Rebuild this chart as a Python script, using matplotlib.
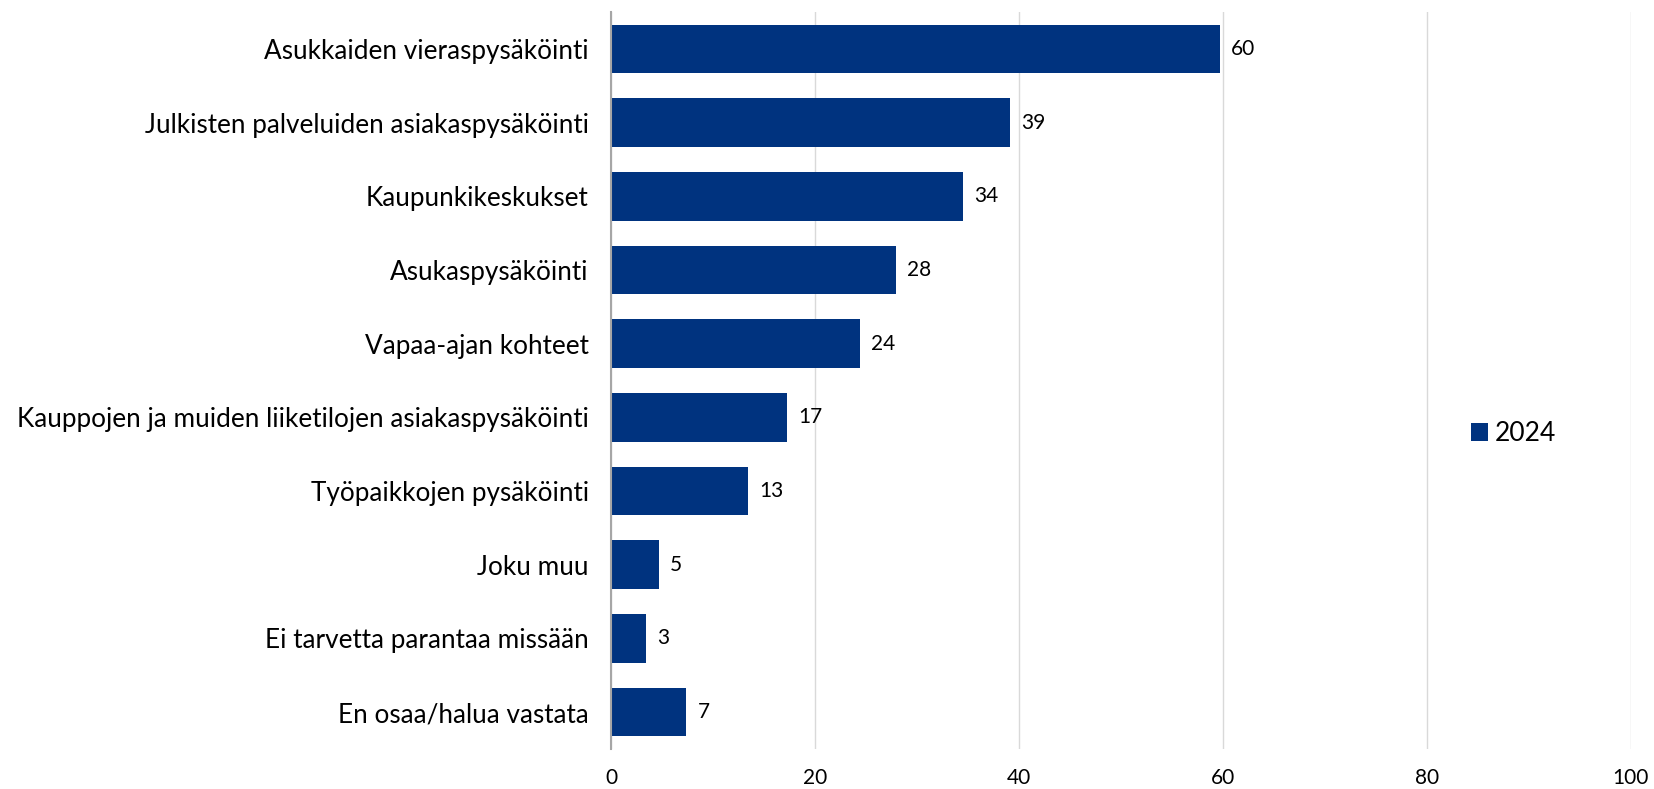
import matplotlib.pyplot as plt

categories = [
    'Asukkaiden vieraspysäköinti',
    'Julkisten palveluiden asiakaspysäköinti',
    'Kaupunkikeskukset',
    'Asukaspysäköinti',
    'Vapaa-ajan kohteet',
    'Kauppojen ja muiden liiketilojen asiakaspysäköinti',
    'Työpaikkojen pysäköinti',
    'Joku muu',
    'Ei tarvetta parantaa missään',
    'En osaa/halua vastata',
]
values = [59.7, 39.1, 34.5, 27.9, 24.4, 17.3, 13.4, 4.7, 3.4, 7.4]
value_labels = ['60', '39', '34', '28', '24', '17', '13', '5', '3', '7']
series_name = '2024'
xticks = [0, 20, 40, 60, 80, 100]

plt.rcParams['font.family'] = ['Lato', 'DejaVu Sans']

fig = plt.figure(figsize=(16.54, 7.89), dpi=100)
ax = fig.add_axes([0.3694, 0.0507, 0.6166, 0.934])

color = '#00337F'
pos = list(range(len(categories)))
bars = ax.barh(pos, values, height=0.66, color=color, label=series_name, zorder=3)

for y, v, lab in zip(pos, values, value_labels):
    ax.text(v + 1.1, y, lab, va='center', ha='left', fontsize=15, color='#000000')

ax.set_ylim(len(categories) - 0.5, -0.5)
ax.set_xlim(0, 100)
ax.set_yticks(pos)
ax.set_yticklabels(categories, fontsize=18.8)
ax.set_xticks(xticks)
ax.set_xticklabels([str(t) for t in xticks], fontsize=15)
ax.tick_params(axis='both', length=0)
ax.tick_params(axis='y', pad=16)
ax.tick_params(axis='x', pad=14)

ax.grid(axis='x', color='#d9d9d9', linewidth=1.0, zorder=0)
for s in ['top', 'right', 'bottom']:
    ax.spines[s].set_visible(False)
ax.spines['left'].set_color('#a6a6a6')
ax.spines['left'].set_linewidth(1.5)
ax.spines['left'].set_zorder(4)

fig.legend(handles=[bars], labels=[series_name], loc='center', bbox_to_anchor=(0.915, 0.45),
           frameon=False, fontsize=19, handlelength=0.65, handleheight=0.65, handletextpad=0.25)

fig.savefig('out.png', dpi=100)
